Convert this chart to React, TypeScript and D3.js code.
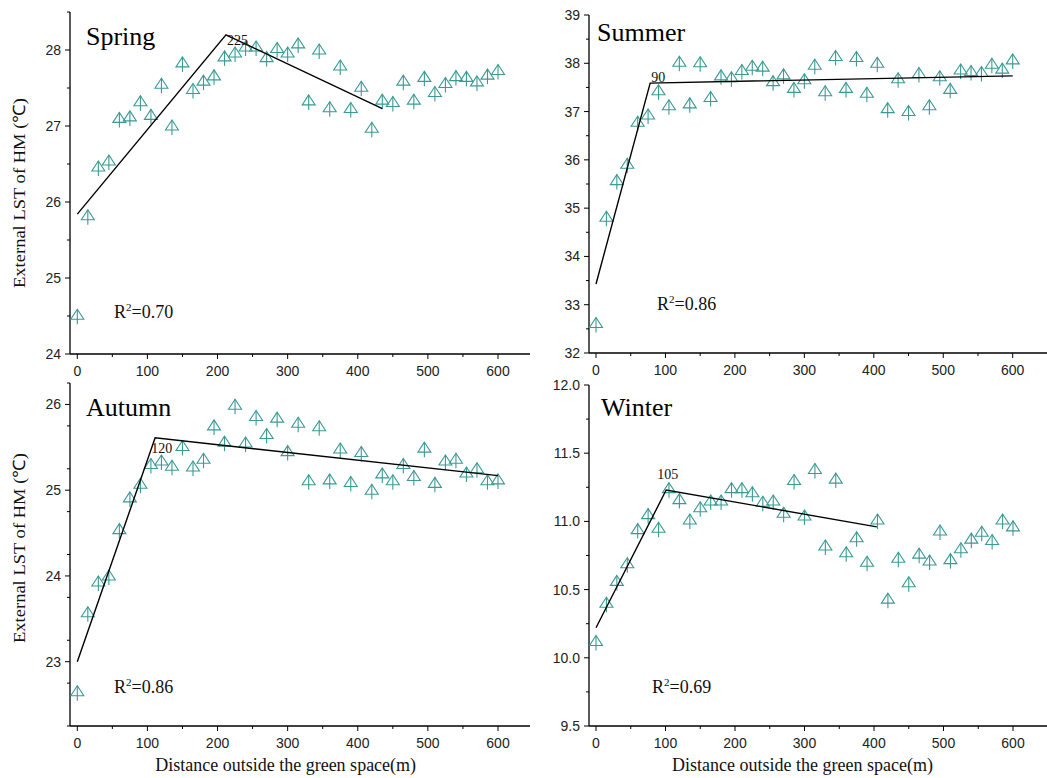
import React from "react";
import * as d3 from "d3";

const distance = [0, 15, 30, 45, 60, 75, 90, 105, 120, 135, 150, 165, 180, 195, 210, 225, 240, 255, 270, 285, 300, 315, 330, 345, 360, 375, 390, 405, 420, 435, 450, 465, 480, 495, 510, 525, 540, 555, 570, 585, 600];

const springLST = [24.51, 25.82, 26.46, 26.54, 27.10, 27.12, 27.32, 27.14, 27.55, 27.00, 27.83, 27.48, 27.59, 27.66, 27.91, 27.96, 28.04, 28.04, 27.90, 28.02, 27.96, 28.08, 27.33, 28.00, 27.24, 27.79, 27.23, 27.51, 26.97, 27.34, 27.31, 27.59, 27.34, 27.64, 27.44, 27.56, 27.65, 27.64, 27.58, 27.67, 27.73];
const summerLST = [32.61, 34.81, 35.57, 35.91, 36.78, 36.93, 37.43, 37.12, 38.02, 37.16, 38.01, 37.29, 37.74, 37.70, 37.85, 37.94, 37.92, 37.62, 37.76, 37.48, 37.66, 37.96, 37.41, 38.14, 37.48, 38.12, 37.38, 38.00, 37.06, 37.68, 37.00, 37.79, 37.12, 37.72, 37.46, 37.86, 37.83, 37.81, 37.98, 37.88, 38.07];
const autumnLST = [22.65, 23.57, 23.93, 24.00, 24.54, 24.91, 25.07, 25.30, 25.34, 25.28, 25.51, 25.27, 25.36, 25.75, 25.56, 25.99, 25.55, 25.86, 25.65, 25.84, 25.45, 25.78, 25.11, 25.74, 25.12, 25.48, 25.09, 25.44, 25.00, 25.19, 25.11, 25.30, 25.16, 25.49, 25.08, 25.34, 25.36, 25.20, 25.25, 25.11, 25.12];
const winterLST = [10.12, 10.40, 10.56, 10.69, 10.94, 11.05, 10.95, 11.24, 11.16, 11.01, 11.10, 11.15, 11.15, 11.24, 11.24, 11.21, 11.14, 11.15, 11.06, 11.30, 11.04, 11.38, 10.82, 11.31, 10.77, 10.88, 10.70, 11.01, 10.43, 10.73, 10.55, 10.76, 10.71, 10.93, 10.72, 10.80, 10.87, 10.92, 10.86, 11.01, 10.96];

const springFit: [number, number][] = [[0, 25.84], [212, 28.2], [435, 27.23]];
const summerFit: [number, number][] = [[0, 33.43], [78, 37.59], [600, 37.74]];
const autumnFit: [number, number][] = [[0, 23.0], [111, 25.61], [600, 25.17]];
const winterFit: [number, number][] = [[0, 10.22], [101, 11.23], [404, 10.96]];

const seasonNames = ["Spring", "Summer", "Autumn", "Winter"];
const breakLabels = ["225", "90", "120", "105"];
const r2Labels = ["0.70", "0.86", "0.86", "0.69"];

const xTicks = [0, 100, 200, 300, 400, 500, 600];
const xMinor = [50, 150, 250, 350, 450, 550];
const springTicks = [24, 25, 26, 27, 28];
const summerTicks = [32, 33, 34, 35, 36, 37, 38, 39];
const autumnTicks = [23, 24, 25, 26];
const winterTicks = [9.5, 10.0, 10.5, 11.0, 11.5, 12.0];

const xTitle = "Distance outside the green space(m)";
const yTitle = "External LST of HM (\u2103)";

const SERIF = "'Liberation Serif', 'Times New Roman', serif";
const SANS = "'Liberation Sans', Arial, sans-serif";
const TEAL = "#3a9a94";

type Panel = {
  name: string;
  values: number[];
  fit: [number, number][];
  breakLabel: string;
  r2: string;
  ticks: number[];
  minorStep: number;
  fmt: (v: number) => string;
  yDomain: [number, number];
  yRange: [number, number];
  xRange: [number, number];
  axisX: [number, number];
  yTitleY: number | null;
  titlePos: [number, number];
  r2Pos: [number, number];
  breakOffset: [number, number];
};

const panels: Panel[] = [
  {
    name: seasonNames[0], values: springLST, fit: springFit, breakLabel: breakLabels[0], r2: r2Labels[0],
    ticks: springTicks, minorStep: 0.5, fmt: (v) => String(v),
    yDomain: [24, 28.5], yRange: [354, 12], xRange: [77.3, 498], axisX: [70, 530], yTitleY: 193,
    titlePos: [86, 45], r2Pos: [114, 318], breakOffset: [1, 10],
  },
  {
    name: seasonNames[1], values: summerLST, fit: summerFit, breakLabel: breakLabels[1], r2: r2Labels[1],
    ticks: summerTicks, minorStep: 0.5, fmt: (v) => String(v),
    yDomain: [32, 39], yRange: [353, 15], xRange: [596, 1012.7], axisX: [589, 1047], yTitleY: null,
    titlePos: [597, 41], r2Pos: [657, 310], breakOffset: [1, -1],
  },
  {
    name: seasonNames[2], values: autumnLST, fit: autumnFit, breakLabel: breakLabels[2], r2: r2Labels[2],
    ticks: autumnTicks, minorStep: 0.5, fmt: (v) => String(v),
    yDomain: [22.25, 26.25], yRange: [726, 383], xRange: [77.3, 498], axisX: [70, 530], yTitleY: 548,
    titlePos: [86, 416], r2Pos: [114, 693], breakOffset: [-4, 15],
  },
  {
    name: seasonNames[3], values: winterLST, fit: winterFit, breakLabel: breakLabels[3], r2: r2Labels[3],
    ticks: winterTicks, minorStep: 0.25, fmt: (v) => v.toFixed(1),
    yDomain: [9.5, 12.0], yRange: [726, 385], xRange: [596, 1013], axisX: [589, 1047], yTitleY: null,
    titlePos: [601, 416], r2Pos: [652, 693], breakOffset: [-9, -11],
  },
];

function Marker({ x, y }: { x: number; y: number }) {
  return (
    <g transform={`translate(${x},${y})`} stroke={TEAL} strokeWidth={1.1} fill="none">
      <path d="M0,-6 L-6.5,4 L6.5,4 Z" />
      <line x1={0} y1={-6} x2={0} y2={9} />
    </g>
  );
}

function PanelView({ p }: { p: Panel }) {
  const x = d3.scaleLinear().domain([0, 600]).range(p.xRange);
  const y = d3.scaleLinear().domain(p.yDomain).range(p.yRange);
  const yAxisX = p.axisX[0];
  const xAxisY = p.yRange[0];
  const line = d3.line<[number, number]>().x((d) => x(d[0])).y((d) => y(d[1]));
  const minorY: number[] = [];
  for (let v = p.yDomain[0]; v <= p.yDomain[1] + 1e-9; v += p.minorStep) {
    const r = Math.round(v * 1000) / 1000;
    if (!p.ticks.some((t) => Math.abs(t - r) < 1e-6)) minorY.push(r);
  }
  const brk = p.fit[1];
  const midX = (p.xRange[0] + p.xRange[1]) / 2;
  return (
    <g>
      <line x1={yAxisX} y1={p.yRange[1]} x2={yAxisX} y2={xAxisY} stroke="#000" strokeWidth={1.3} />
      <line x1={p.axisX[0]} y1={xAxisY} x2={p.axisX[1]} y2={xAxisY} stroke="#000" strokeWidth={1.3} />
      {p.ticks.map((t) => (
        <g key={"yt" + t}>
          <line x1={yAxisX - 5} x2={yAxisX} y1={y(t)} y2={y(t)} stroke="#000" strokeWidth={1} />
          <text x={yAxisX - 9} y={y(t) + 5} textAnchor="end" fontFamily={SANS} fontSize={14} fill="#222">{p.fmt(t)}</text>
        </g>
      ))}
      {minorY.map((t) => (
        <line key={"ym" + t} x1={yAxisX - 3} x2={yAxisX} y1={y(t)} y2={y(t)} stroke="#000" strokeWidth={1} />
      ))}
      {xTicks.map((t) => (
        <g key={"xt" + t}>
          <line x1={x(t)} x2={x(t)} y1={xAxisY} y2={xAxisY + 5} stroke="#000" strokeWidth={1} />
          <text x={x(t)} y={xAxisY + 22} textAnchor="middle" fontFamily={SANS} fontSize={14} fill="#222">{t}</text>
        </g>
      ))}
      {xMinor.map((t) => (
        <line key={"xm" + t} x1={x(t)} x2={x(t)} y1={xAxisY} y2={xAxisY + 3} stroke="#000" strokeWidth={1} />
      ))}
      {p.values.map((v, i) => (
        <Marker key={i} x={x(distance[i])} y={y(v)} />
      ))}
      <path d={line(p.fit) || ""} fill="none" stroke="#000" strokeWidth={1.4} />
      <text x={x(brk[0]) + p.breakOffset[0]} y={y(brk[1]) + p.breakOffset[1]} fontFamily={SERIF} fontSize={14} fill="#111">{p.breakLabel}</text>
      <text x={p.titlePos[0]} y={p.titlePos[1]} fontFamily={SERIF} fontSize={26} fill="#000">{p.name}</text>
      <text x={p.r2Pos[0]} y={p.r2Pos[1]} fontFamily={SERIF} fontSize={18} fill="#111">
        R<tspan fontSize={11} dy={-7}>2</tspan><tspan dy={7}>={p.r2}</tspan>
      </text>
      {p.yTitleY !== null && (
        <text transform={`translate(25,${p.yTitleY}) rotate(-90)`} textAnchor="middle" fontFamily={SERIF} fontSize={17}
          textLength={190} lengthAdjust="spacingAndGlyphs" fill="#111">{yTitle}</text>
      )}
      {xAxisY > 500 && (
        <text x={midX - 2} y={771} textAnchor="middle" fontFamily={SERIF} fontSize={18} fill="#111">{xTitle}</text>
      )}
    </g>
  );
}

export default function App() {
  return (
    <svg width={1047} height={778} style={{ position: "absolute", left: 0, top: 0, background: "#fff" }}>
      <rect width={1047} height={778} fill="#fff" />
      {panels.map((p) => (
        <PanelView key={p.name} p={p} />
      ))}
    </svg>
  );
}
